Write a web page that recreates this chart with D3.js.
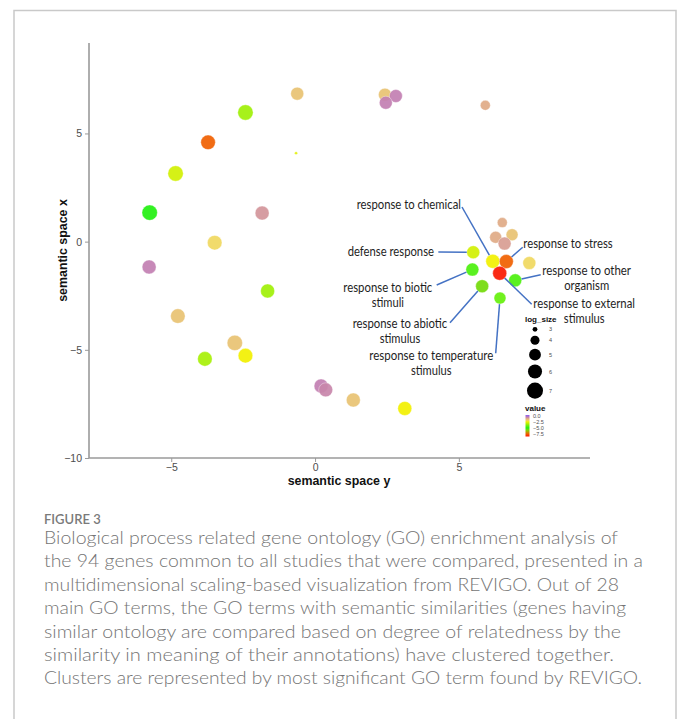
<!DOCTYPE html>
<html><head><meta charset="utf-8">
<script src="https://cdn.jsdelivr.net/npm/d3@7"></script>
<style>
html,body{margin:0;padding:0;background:#fff;}
svg{display:block;}
</style></head>
<body>
<svg id="chart" width="681" height="719"></svg>
<script>
// ---- data ----
const semX = [-0.62,-2.42,-3.72,-0.66,-4.85,-5.75,-1.84,-3.49,-5.77,2.43,2.81,2.46,5.92,6.51,6.28,6.85,6.59,5.50,6.18,6.65,7.45,5.47,6.42,6.96,5.81,6.43,-1.65,-4.77,-2.79,-2.42,-3.83,0.21,0.37,1.33,3.12];
const semY = [6.84,5.97,4.59,4.09,3.15,1.34,1.32,-0.05,-1.17,6.79,6.73,6.42,6.30,0.88,0.20,0.32,-0.09,-0.49,-0.91,-0.92,-0.99,-1.29,-1.46,-1.79,-2.06,-2.61,-2.28,-3.44,-4.68,-5.27,-5.42,-6.67,-6.85,-7.32,-7.71];
const logSize = [5.5,6.68,6.26,2.75,6.68,6.68,5.97,6.26,5.97,5.5,5.5,5.5,4.32,4.32,5.07,5.07,5.5,5.5,5.97,5.97,5.5,5.5,5.97,5.5,5.5,5.07,5.97,6.26,6.68,6.26,6.26,5.97,5.97,5.97,5.97];
const values = [-1.6,-3.5,-7.5,-2.7,-2.9,-5.0,-0.9,-2.1,-0.6,-1.6,-0.6,-0.6,-1.2,-1.2,-1.2,-1.6,-1.0,-2.9,-2.5,-7.5,-2.1,-4.5,-8.6,-4.5,-5.9,-4.2,-3.5,-1.6,-1.6,-2.5,-3.4,-0.6,-0.7,-1.6,-2.5];

const xTicks = [-5, 0, 5];
const yTicks = [-10, -5, 0, 5];
const sizeKeys = [3, 4, 5, 6, 7];
const valueKeys = [0, -2.5, -5, -7.5];

const annLabels = [
  ["response to chemical"],
  ["defense response"],
  ["response to stress"],
  ["response to other", "organism"],
  ["response to external", "stimulus"],
  ["response to biotic", "stimuli"],
  ["response to abiotic", "stimulus"],
  ["response to temperature", "stimulus"]
];
const annPoint = [18, 17, 19, 23, 22, 21, 24, 25];

const captionTitle = "FIGURE 3";
const captionLines = [
  "Biological process related gene ontology (GO) enrichment analysis of",
  "the 94 genes common to all studies that were compared, presented in a",
  "multidimensional scaling-based visualization from REVIGO. Out of 28",
  "main GO terms, the GO terms with semantic similarities (genes having",
  "similar ontology are compared based on degree of relatedness by the",
  "similarity in meaning of their annotations) have clustered together.",
  "Clusters are represented by most significant GO term found by REVIGO."
];

// ---- layout ----
const annLayout = [ // text center x, first-line center y, widths, line start
  {cx:408.8, cy:204.3, w:[104.3], sx:462, sy:207},
  {cx:390.8, cy:251.7, w:[86.3], sx:438.3, sy:252},
  {cx:568.0, cy:243.3, w:[89.4], sx:522.7, sy:247.3},
  {cx:586.7, cy:270.3, w:[88.7,45], sx:540.7, sy:274.7},
  {cx:584.2, cy:303.3, w:[101.7,40.7], sx:531.7, sy:304.3},
  {cx:387.8, cy:287.3, w:[89,32.3], sx:436.7, sy:285},
  {cx:400.0, cy:323.3, w:[94.6,40.7], sx:450, sy:322.7},
  {cx:431.3, cy:355.7, w:[124,40.7], sx:495.7, sy:353.3}
];
const captionWidths = [574, 599, 575, 582, 577, 570, 598];

const svg = d3.select("#chart");

// frame
svg.append("rect").attr("x",14).attr("y",10.5).attr("width",662).attr("height",730)
  .attr("fill","none").attr("stroke","#c9c9c9").attr("stroke-width",1.5);

const x = d3.scaleLinear().domain([-7.86, 9.56]).range([89, 590]);
const y = d3.scaleLinear().domain([-10, 9.18]).range([458, 43]);
const rScale = v => Math.sqrt(Math.max(0, 14.55 * (v - 2.6)));
const color = d3.scaleLinear()
  .domain([0.3, -0.6, -1.1, -1.6, -2.1, -2.5, -5.0, -6.0, -7.5, -8.6])
  .range(["#8a5cf0", "#c27fb2", "#dea48a", "#e8c272", "#f0d860", "#f2f000", "#22f010", "#7cd808", "#f06000", "#fa1800"])
  .interpolate(d3.interpolateRgb).clamp(true);

// axes
const gx = svg.append("g").attr("transform","translate(0,458)")
  .call(d3.axisBottom(x).tickValues(xTicks).tickSize(4).tickPadding(2).tickFormat(d3.format("d")));
const gy = svg.append("g").attr("transform","translate(89,0)")
  .call(d3.axisLeft(y).tickValues(yTicks).tickSize(4).tickPadding(3).tickFormat(d3.format("d")));
[gx, gy].forEach(g => {
  g.select(".domain").attr("stroke","#9a9a9a").attr("stroke-width",1.6);
  g.selectAll(".tick line").attr("stroke","#9a9a9a").attr("stroke-width",1);
  g.selectAll(".tick text").attr("fill","#4d4d4d").style("font-family","'Liberation Sans', Arial, sans-serif").style("font-size","10.5px");
});
gx.select(".domain").attr("d","M89,0H590");
gy.select(".domain").attr("d","M0,43V458");

svg.append("text").attr("x",339).attr("y",485).attr("text-anchor","middle")
  .style("font-family","'Liberation Sans', Arial, sans-serif").style("font-weight","bold").style("font-size","12.4px")
  .attr("fill","#111").text("semantic space y");
svg.append("text").attr("transform","translate(67,250.5) rotate(-90)").attr("text-anchor","middle")
  .style("font-family","'Liberation Sans', Arial, sans-serif").style("font-weight","bold").style("font-size","12.4px")
  .attr("fill","#111").text("semantic space x");

// points
const pts = semX.map((d,i)=>({x:d, y:semY[i], s:logSize[i], v:values[i]}));
svg.append("g").selectAll("circle").data(pts).join("circle")
  .attr("cx", d=>x(d.x)).attr("cy", d=>y(d.y)).attr("r", d=>rScale(d.s))
  .attr("fill", d=>color(d.v)).attr("fill-opacity",0.92)
  .attr("stroke","#ffffff").attr("stroke-opacity",0.6).attr("stroke-width",0.6);

// annotations
const annFont = "Lato, 'Open Sans', sans-serif";
const ga = svg.append("g");
annLabels.forEach((lines,i)=>{
  const L = annLayout[i];
  const p = pts[annPoint[i]];
  const px = x(p.x), py = y(p.y), r = rScale(p.s);
  const dx = L.sx - px, dy = L.sy - py, len = Math.hypot(dx,dy);
  ga.append("line").attr("x1",L.sx).attr("y1",L.sy)
    .attr("x2",px + dx/len*r).attr("y2",py + dy/len*r)
    .attr("stroke","#4472c4").attr("stroke-width",1.5);
  lines.forEach((t,j)=>{
    ga.append("text").attr("x",L.cx).attr("y",L.cy + j*15).attr("dy","0.35em")
      .attr("text-anchor","middle").attr("textLength",L.w[j]).attr("lengthAdjust","spacingAndGlyphs")
      .style("font-family",annFont).style("font-size","13.5px").attr("fill","#1e1e1e").text(t);
  });
});

// size legend
const lg = svg.append("g");
lg.append("text").attr("x",525).attr("y",322).style("font-family","'Liberation Sans', Arial, sans-serif")
  .style("font-weight","bold").style("font-size","8px").attr("fill","#111").text("log_size");
let cy = 329.3, prevR = null;
sizeKeys.forEach((k,i)=>{
  const r = rScale(k);
  if (prevR !== null) cy += prevR + r + 4;
  lg.append("circle").attr("cx",535).attr("cy",cy).attr("r",r).attr("fill","#000");
  lg.append("text").attr("x",549).attr("y",cy).attr("dy","0.35em")
    .style("font-family","'Liberation Sans', Arial, sans-serif").style("font-size","5.5px").attr("fill","#4d4d4d").text(k);
  prevR = r;
});

// colour legend
lg.append("text").attr("x",525).attr("y",411).style("font-family","'Liberation Sans', Arial, sans-serif")
  .style("font-weight","bold").style("font-size","8px").attr("fill","#111").text("value");
const cbar = d3.scaleLinear().domain([0.3, -8.6]).range([415, 436.5]);
const defs = svg.append("defs");
const grad = defs.append("linearGradient").attr("id","cb").attr("x1",0).attr("y1",0).attr("x2",0).attr("y2",1);
d3.range(0, 1.0001, 0.05).forEach(t=>{
  const v = cbar.invert(415 + t*21.5);
  grad.append("stop").attr("offset",t).attr("stop-color",color(v));
});
lg.append("rect").attr("x",525.5).attr("y",415).attr("width",4).attr("height",21.5).attr("fill","url(#cb)");
valueKeys.forEach(k=>{
  lg.append("text").attr("x",533).attr("y",cbar(k)).attr("dy","0.35em")
    .style("font-family","'Liberation Sans', Arial, sans-serif").style("font-size","5.5px").attr("fill","#4d4d4d")
    .text(d3.format(".1f")(k));
});

// caption
svg.append("text").attr("x",44).attr("y",524)
  .style("font-family","Lato, 'Open Sans', sans-serif").style("font-size","13px").style("font-weight","600")
  .attr("fill","#7a7a7a").text(captionTitle);
captionLines.forEach((t,i)=>{
  svg.append("text").attr("x",44).attr("y",544 + i*23.4)
    .attr("textLength",captionWidths[i]).attr("lengthAdjust","spacingAndGlyphs")
    .style("font-family","Lato, 'Open Sans', sans-serif").style("font-size","17px").style("font-weight","300")
    .attr("fill","#747474").text(t);
});
</script>
</body></html>
